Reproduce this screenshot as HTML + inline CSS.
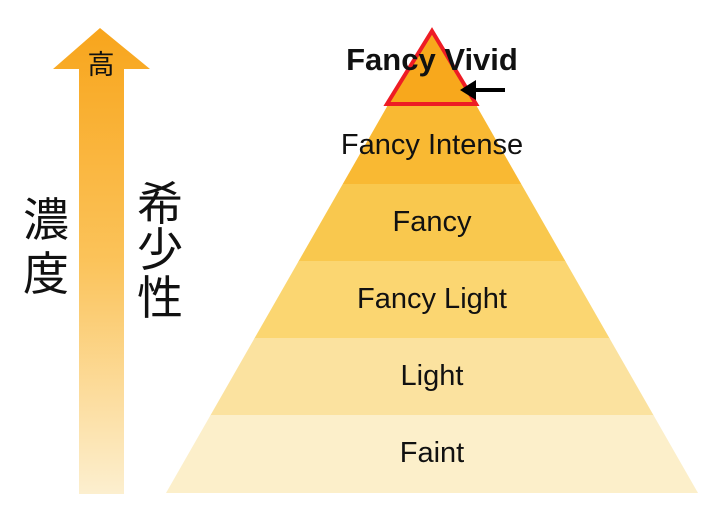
<!DOCTYPE html>
<html><head><meta charset="utf-8"><style>
html,body{margin:0;padding:0;background:#fff;width:712px;height:510px;overflow:hidden}
</style></head><body>
<svg width="712" height="510" viewBox="0 0 712 510" xmlns="http://www.w3.org/2000/svg">
<defs>
<linearGradient id="ag" x1="0" y1="0" x2="0" y2="1">
<stop offset="0" stop-color="#f8a51c"/>
<stop offset="0.5" stop-color="#fbc35a"/>
<stop offset="1" stop-color="#fcefcf"/>
</linearGradient>
<clipPath id="pc"><polygon points="432,28 698,493 166,493"/></clipPath>
</defs>
<polygon points="100,28 150,69 124,69 124,494 79,494 79,69 53,69" fill="url(#ag)"/>
<g font-family="'Liberation Sans','Noto Sans CJK JP',sans-serif" fill="#111">
<text x="101" y="74" font-size="27" text-anchor="middle">高</text>
<text x="46" y="236" font-size="46" text-anchor="middle">濃</text>
<text x="46" y="290" font-size="46" text-anchor="middle">度</text>
<text x="160" y="220" font-size="46" text-anchor="middle">希</text>
<text x="160" y="266" font-size="46" text-anchor="middle">少</text>
<text x="160" y="314" font-size="46" text-anchor="middle">性</text>
</g>
<g clip-path="url(#pc)">
<rect x="160" y="20" width="560" height="87" fill="#f8a81c"/>
<rect x="160" y="106" width="560" height="78" fill="#f9b933"/>
<rect x="160" y="184" width="560" height="78" fill="#f9c84e"/>
<rect x="160" y="261" width="560" height="78" fill="#fbd671"/>
<rect x="160" y="338" width="560" height="78" fill="#fbe29f"/>
<rect x="160" y="415" width="560" height="80" fill="#fcefca"/>
</g>
<polygon points="432,31 476,104 387,104" fill="#f8a81c" stroke="#ee1c24" stroke-width="4" stroke-linejoin="miter"/>
<g font-family="'Liberation Sans',sans-serif" fill="#111" text-anchor="middle" font-size="29">
<text x="432" y="70" font-weight="bold" font-size="31">Fancy Vivid</text>
<text x="432" y="154">Fancy Intense</text>
<text x="432" y="231">Fancy</text>
<text x="432" y="308">Fancy Light</text>
<text x="432" y="385">Light</text>
<text x="432" y="462">Faint</text>
</g>
<line x1="505" y1="90" x2="470" y2="90" stroke="#000" stroke-width="4"/>
<polygon points="460,90 476,80 476,100" fill="#000"/>
</svg>
</body></html>
